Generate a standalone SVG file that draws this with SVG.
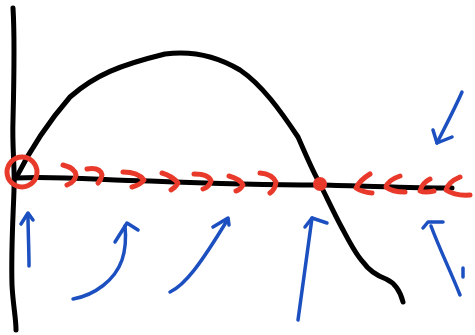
<svg xmlns="http://www.w3.org/2000/svg" width="475" height="335" viewBox="0 0 475 335">
<style>
.k{fill:none;stroke:#000;stroke-width:5;stroke-linecap:round;stroke-linejoin:round}
.r{fill:none;stroke:#e8392a;stroke-width:5;stroke-linecap:round;stroke-linejoin:round}
.b{fill:none;stroke:#1c4fc0;stroke-width:3.5;stroke-linecap:round;stroke-linejoin:round}
</style>
<rect width="475" height="335" fill="#fff"/>
<g id="axes">
<path class="k" d="M13,8 C15,40 14,80 13,120 C12,150 15,165 14,190 C13,220 11,250 12,285 C13,305 16,318 16,330"/>
<path class="k" d="M15,178 C60,176 100,180 150,181 C200,183 260,185 320,185 C370,186 410,188 452,188"/>
</g>
<g id="curve">
<path class="k" d="M16,178 C30,150 50,120 70,97 C95,75 120,65 165,54 C195,50 220,58 240,70 C262,85 280,110 298,137 C306,155 312,170 320,184 C328,200 335,215 342,228 C350,243 356,255 363,262 C370,272 378,276 386,279 C395,283 400,290 403,302"/>
</g>
<g id="equilibria">
<circle class="r" cx="22" cy="172" r="15"/>
<circle cx="320" cy="184" r="7" fill="#e8392a"/>
</g>
<g id="flow">
<path class="r" d="M63,165 Q75,168 76,175 Q75,182 67,185"/>
<path class="r" d="M87,169 Q100,167 102,175 Q101,180 98,183"/>
<path class="r" d="M123,172 Q138,172 144,180 Q140,185 132,187"/>
<path class="r" d="M162,173 Q172,176 178,183 Q175,188 171,190"/>
<path class="r" d="M194,174 Q209,174 211,181 Q209,187 203,189"/>
<path class="r" d="M229,176 Q240,179 243,185 Q240,190 236,191"/>
<path class="r" d="M260,173 Q272,174 276,182 Q275,190 270,193"/>
<path class="r" d="M370,174 Q360,180 356,188 Q362,192 372,193"/>
<path class="r" d="M400,176 Q388,180 386,187 Q392,192 405,192"/>
<path class="r" d="M430,179 Q422,183 420,191 Q425,193 434,191"/>
<path class="r" d="M460,177 Q448,182 446,190 Q455,196 470,195"/>
</g>
<g id="arrows">
<path class="b" d="M29,266 C29,250 28,230 28,214"/>
<path class="b" d="M21,224 L28,213 L33,220"/>
<path class="b" d="M73,299 C95,295 115,280 122,260 C126,248 126,236 125,226"/>
<path class="b" d="M115,242 L127,223 L138,230"/>
<path class="b" d="M170,292 C185,285 200,265 228,219"/>
<path class="b" d="M213,227 L228,218 L229,225"/>
<path class="b" d="M298,320 C302,290 306,260 312,218"/>
<path class="b" d="M305,227 L312,218 L327,223"/>
<path class="b" d="M460,295 C450,270 440,250 431,226"/>
<path class="b" d="M423,228 L428,222 L443,222"/>
<path class="b" d="M463,277 L463,268"/>
<path class="b" d="M462,92 C455,108 446,125 437,143"/>
<path class="b" d="M433,130 L437,143 L452,137"/>
</g>
</svg>
